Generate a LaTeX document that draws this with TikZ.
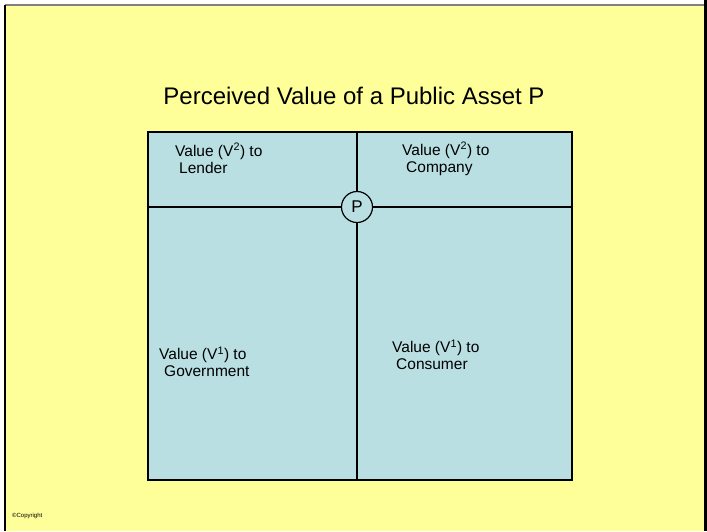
\documentclass[tikz,border=0pt]{standalone}
\usepackage{fontspec}
\setmainfont{Liberation Sans}
\usepackage{tikz}

\definecolor{slide}{HTML}{FFFF99}
\definecolor{cell}{HTML}{B9DFE3}

\tikzset{
  valtext/.style={anchor=north west,align=left,font=\fontsize{15.5}{17}\selectfont,inner sep=0pt},
  divider/.style={line width=1.6pt}
}

\begin{document}
\begin{tikzpicture}[x=1pt,y=-1pt]
  \useasboundingbox (0,0) rectangle (707,531);
  \fill[white] (0,0) rectangle (707,531);
  \fill[slide] (5,5) rectangle (704,531);
  \draw[gray,line width=2pt] (5,5) -- (704,5);
  \draw[black,line width=2pt] (5,5) -- (5,531);
  \draw[black,line width=3pt] (705.5,0) -- (705.5,531);
  \node[font=\fontsize{24}{28}\selectfont] (title) at (354,96) {Perceived Value of a Public Asset P};
  \draw[divider,fill=cell] (148,132) rectangle (572,480);
  \coordinate (top) at (357,132);
  \coordinate (bottom) at (357,480);
  \coordinate (left) at (148,207);
  \coordinate (right) at (572,207);
  \node[draw,circle,fill=cell,line width=1.2pt,minimum size=31pt,inner sep=0pt,font=\fontsize{17}{18}\selectfont] (P) at (357,207) {P};
  \draw[divider] (top) -- (P);
  \draw[divider] (P) -- (bottom);
  \draw[divider] (left) -- (P);
  \draw[divider] (P) -- (right);
  \node[valtext] (lender) at (175,143) {Value (V\textsuperscript{2}) to\\\hspace{4pt}Lender};
  \node[valtext] (company) at (402,142) {Value (V\textsuperscript{2}) to\\\hspace{4pt}Company};
  \node[valtext] (government) at (159,347) {Value (V\textsuperscript{1}) to\\\hspace{5pt}Government};
  \node[valtext] (consumer) at (392,340) {Value (V\textsuperscript{1}) to\\\hspace{4pt}Consumer};
  \node[anchor=west,font=\fontsize{6}{7}\selectfont,inner sep=0pt] (copy) at (12,516) {\textcopyright Copyright};
\end{tikzpicture}
\end{document}
